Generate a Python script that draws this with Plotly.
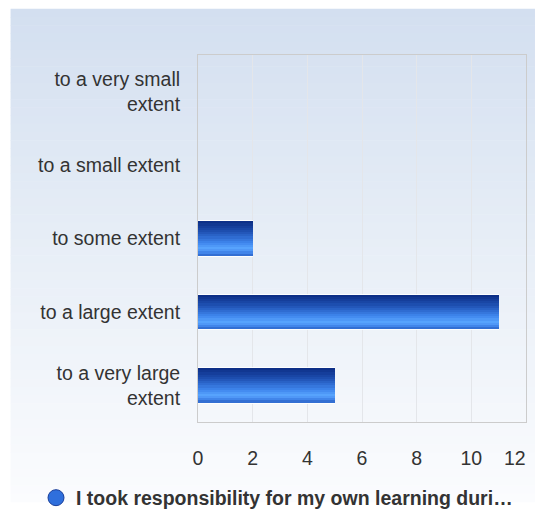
import plotly.graph_objects as go

categories = ["to a very small<br>extent", "to a small extent", "to some extent",
              "to a large extent", "to a very large<br>extent"]
values = [0, 0, 2, 11, 5]
series_name = "I took responsibility for my own learning duri…"
x_ticks = [0, 2, 4, 6, 8, 10, 12]
x_tick_text = ["0", "2", "4", "6", "8", "10", "12"]

# page body has an 8px margin; size figure so the page does not overflow
W, H = 528, 501
ML, MR, MT, MB = 190, 9, 47, 81
PW, PH = W - ML - MR, H - MT - MB

def lerp(c1, c2, t):
    a = [int(c1[i:i+2], 16) for i in (1, 3, 5)]
    b = [int(c2[i:i+2], 16) for i in (1, 3, 5)]
    return "rgb(%d,%d,%d)" % tuple(round(a[j] + (b[j] - a[j]) * t) for j in range(3))

def grad(stops, t):
    for (f0, c0), (f1, c1) in zip(stops, stops[1:]):
        if f0 <= t <= f1:
            return lerp(c0, c1, (t - f0) / (f1 - f0) if f1 > f0 else 0)
    return stops[-1][1]

fig = go.Figure()

bar_w = 0.47
fig.add_trace(go.Bar(
    x=values, y=categories, orientation="h", width=bar_w + 0.03, offset=-(bar_w + 0.03) / 2,
    marker=dict(color="rgba(255,255,255,0.9)", line=dict(width=0)),
    showlegend=False, hoverinfo="skip"))

n = 16
stops = [(0, "#0b2b82"), (0.3, "#1e50b2"), (0.62, "#3f86ee"), (0.8, "#5aa6ff"),
         (0.9, "#4287ec"), (1.0, "#2c64c8")]
sw = bar_w / n
for i in range(n):
    fig.add_trace(go.Bar(
        x=values, y=categories, orientation="h",
        width=sw * 1.05, offset=-bar_w / 2 + i * sw,
        marker=dict(color=grad(stops, (i + 0.5) / n), line=dict(width=0)),
        showlegend=False, hoverinfo="x+y"))

fig.add_trace(go.Scatter(
    x=[None], y=[None], mode="markers", name=series_name,
    marker=dict(symbol="circle", size=17, color="#2f6fdc",
                line=dict(color="#1a3f9a", width=1))))

shapes = []
top_px, left_px = 0, 2
nb = 60
bstops = [(0, "#d3dff0"), (0.45, "#e6edf6"), (1.0, "#fbfcfe")]
for i in range(nb):
    y0 = top_px + (H - top_px) * i / nb
    y1 = top_px + (H - top_px) * (i + 1) / nb + 0.5
    shapes.append(dict(
        type="rect", xref="paper", yref="paper", layer="below",
        x0=(left_px - ML) / PW, x1=(W - ML) / PW,
        y0=(H - MB - y1) / PH, y1=(H - MB - y0) / PH,
        fillcolor=grad(bstops, (i + 0.5) / nb), line=dict(width=0)))

# last tick label is pulled inside the chart edge, as in the original
fig.add_annotation(x=x_ticks[-1], y=0, xref="x", yref="paper", text=x_tick_text[-1],
                   showarrow=False, xanchor="center", yanchor="middle",
                   xshift=-11, yshift=-36,
                   font=dict(size=19.5, color="#333333",
                             family="Liberation Sans, Arial, sans-serif"))

fig.update_layout(
    width=W, height=H,
    margin=dict(l=ML, r=MR, t=MT, b=MB),
    paper_bgcolor="white", plot_bgcolor="rgba(0,0,0,0)",
    barmode="overlay", bargap=0,
    font=dict(family="Liberation Sans, Arial, sans-serif", size=19.5, color="#333333"),
    shapes=shapes,
    showlegend=True,
    legend=dict(orientation="h", xref="container", yref="container",
                x=269 / W, y=1 - 490 / H, xanchor="center", yanchor="middle",
                font=dict(size=19.5, color="#333333", weight="bold"),
                bgcolor="rgba(0,0,0,0)", itemsizing="trace"),
    xaxis=dict(range=[0, 12], tickvals=x_ticks[:-1], ticktext=x_tick_text[:-1],
               showgrid=True, gridcolor="#e4e6ea", gridwidth=1, zeroline=False,
               showline=True, mirror=True, linecolor="#cccccc", linewidth=1, ticks="",
               ticklabelstandoff=19, fixedrange=True),
    yaxis=dict(categoryorder="array", categoryarray=categories, autorange="reversed",
               showgrid=False, zeroline=False, showline=True, mirror=True,
               linecolor="#cccccc", linewidth=1, ticks="", ticklabelstandoff=13,
               fixedrange=True),
)

fig.write_html("out.html")
